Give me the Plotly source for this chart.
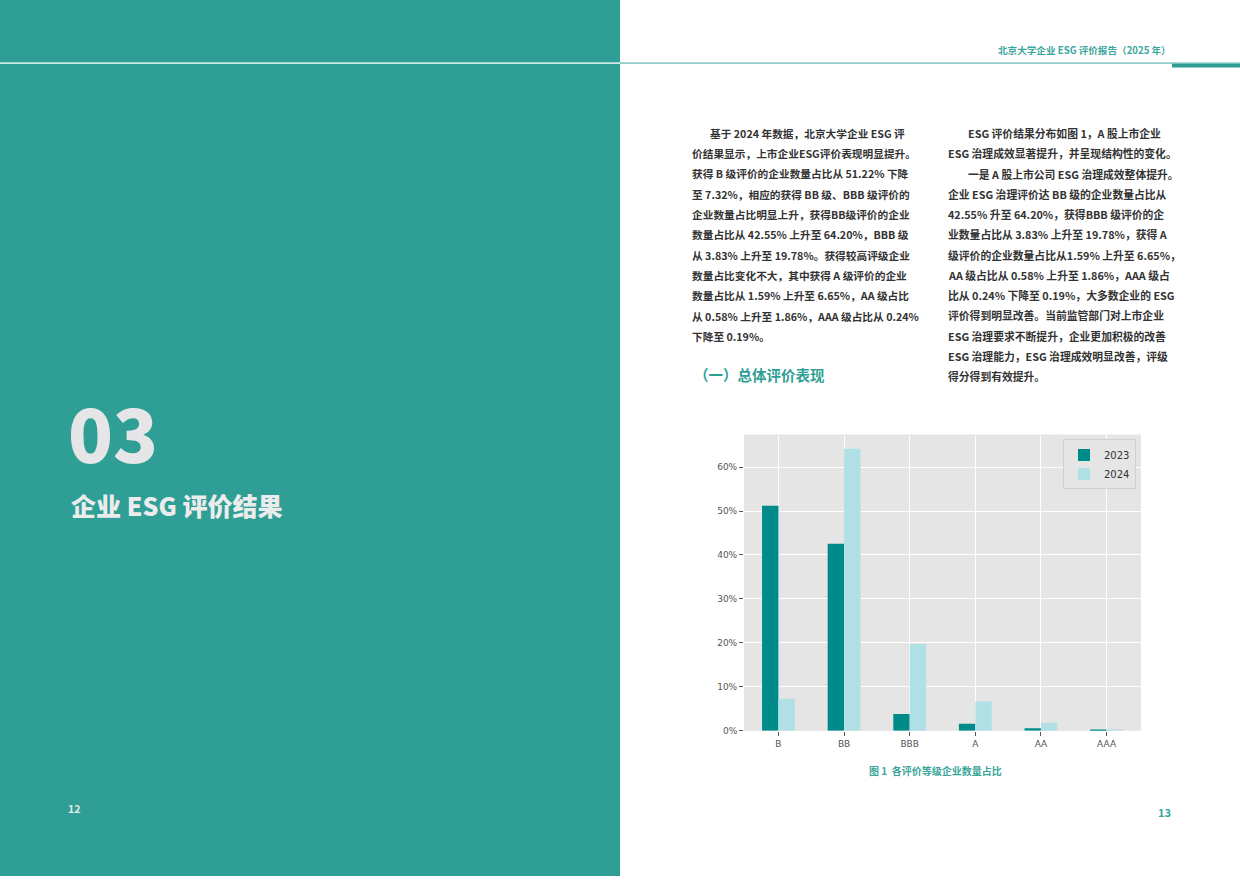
import plotly.graph_objects as go

W, H = 1240, 881

grades = ["B", "BB", "BBB", "A", "AA", "AAA"]
share_2023 = [51.22, 42.55, 3.83, 1.59, 0.58, 0.24]
share_2024 = [7.32, 64.20, 19.78, 6.65, 1.86, 0.19]
y_ticks = [0, 10, 20, 30, 40, 50, 60]
y_labels = ["0%", "10%", "20%", "30%", "40%", "50%", "60%"]

left_lines = [
    "基于 2024 年数据，北京大学企业 ESG 评",
    "价结果显示，上市企业ESG评价表现明显提升。",
    "获得 B 级评价的企业数量占比从 51.22% 下降",
    "至 7.32%，相应的获得 BB 级、BBB 级评价的",
    "企业数量占比明显上升，获得BB级评价的企业",
    "数量占比从 42.55% 上升至 64.20%，BBB 级",
    "从 3.83% 上升至 19.78%。获得较高评级企业",
    "数量占比变化不大，其中获得 A 级评价的企业",
    "数量占比从 1.59% 上升至 6.65%，AA 级占比",
    "从 0.58% 上升至 1.86%，AAA 级占比从 0.24%",
    "下降至 0.19%。",
]
right_lines = [
    "ESG 评价结果分布如图 1，A 股上市企业",
    "ESG 治理成效显著提升，并呈现结构性的变化。",
    "一是 A 股上市公司 ESG 治理成效整体提升。",
    "企业 ESG 治理评价达 BB 级的企业数量占比从",
    "42.55% 升至 64.20%，获得BBB 级评价的企",
    "业数量占比从 3.83% 上升至 19.78%，获得 A",
    "级评价的企业数量占比从1.59% 上升至 6.65%，",
    "AA 级占比从 0.58% 上升至 1.86%，AAA 级占",
    "比从 0.24% 下降至 0.19%，大多数企业的 ESG",
    "评价得到明显改善。当前监管部门对上市企业",
    "ESG 治理要求不断提升，企业更加积极的改善",
    "ESG 治理能力，ESG 治理成效明显改善，评级",
    "得分得到有效提升。",
]
indented_left = [0]
indented_right = [0, 2]

TEAL = "#2f9f95"
CJK = "Noto Sans CJK SC"


def px(x):
    return x / W


def py(y):
    return 1 - y / H


fig = go.Figure()
fig.add_trace(go.Bar(x=grades, y=share_2023, name="2023", marker_color="#008b8b",
                     offset=-0.25, width=0.25, marker_line_width=0))
fig.add_trace(go.Bar(x=grades, y=share_2024, name="2024", marker_color="#b0e0e6",
                     offset=0, width=0.25, marker_line_width=0))

shapes = [
    dict(type="rect", xref="paper", yref="paper", x0=0, x1=px(620), y0=0, y1=1,
         fillcolor=TEAL, line_width=0, layer="below"),
    dict(type="line", xref="paper", yref="paper", x0=0, x1=px(620), y0=py(63.5), y1=py(63.5),
         line=dict(color="#cde9e5", width=1.6)),
    dict(type="line", xref="paper", yref="paper", x0=px(620), x1=1, y0=py(63.5), y1=py(63.5),
         line=dict(color="#8fcdc6", width=1.6)),
    dict(type="rect", xref="paper", yref="paper", x0=px(1172), x1=1, y0=py(68), y1=py(64),
         fillcolor=TEAL, line_width=0),
]

annotations = []


def note(text, x, y, size, color, xanchor="left", weight="bold", family=CJK):
    annotations.append(dict(text=text, x=px(x), y=py(y), xref="paper", yref="paper",
                            xanchor=xanchor, yanchor="middle", showarrow=False,
                            font=dict(family=family, size=size, color=color, weight=weight)))


for i, line in enumerate(left_lines):
    note(line, 708 if i in indented_left else 690, 134 + i * 20.45, 10.7, "#333333")
for i, line in enumerate(right_lines):
    note(line, 966 if i in indented_right else 946, 134 + i * 20.35, 10.8, "#333333")

note("北京大学企业 ESG 评价报告（2025 年）", 1173, 50, 9.6, "#3aa69b", xanchor="right")
note("（一）总体评价表现", 692, 377, 14.5, "#2f9f95")
note("03", 66, 433, 74, "#e6e6e8", weight=900)
note("企业 ESG 评价结果", 69, 508, 25, "#ececec", weight=900)
note("12", 66, 813, 10.5, "#e8e8e8")
note("13", 1156, 817, 11, "#35a69c")
note("图 1  各评价等级企业数量占比", 935, 775, 10, "#3ba59a", xanchor="center")

fig.update_layout(
    autosize=True,
    margin=dict(l=0, r=0, t=0, b=0),
    paper_bgcolor="white",
    plot_bgcolor="#e5e5e5",
    barmode="overlay",
    shapes=shapes,
    annotations=annotations,
    legend=dict(x=px(1136), y=py(442), xanchor="right", yanchor="top",
                bgcolor="#e5e5e5", bordercolor="#d0d0d0", borderwidth=1,
                itemwidth=30, tracegroupgap=0,
                font=dict(family="DejaVu Sans", size=10, color="#333333")),
    xaxis=dict(domain=[px(744), px(1141)], range=[-0.525, 5.525], type="category",
               showgrid=True, gridcolor="white", gridwidth=1, zeroline=False,
               ticks="outside", ticklen=4, tickcolor="#555555",
               tickfont=dict(family="DejaVu Sans", size=9, color="#555555")),
    yaxis=dict(domain=[py(735), py(437)], range=[0, 67.41],
               tickvals=y_ticks, ticktext=y_labels,
               showgrid=True, gridcolor="white", gridwidth=1, zeroline=False,
               ticks="outside", ticklen=4, tickcolor="#555555",
               tickfont=dict(family="DejaVu Sans", size=9, color="#555555")),
)

fig.write_html("out.html", config={"displayModeBar": False},
               default_width="100vw", default_height="100vh",
               post_script="document.body.style.margin='0';document.body.style.overflow='hidden';")
